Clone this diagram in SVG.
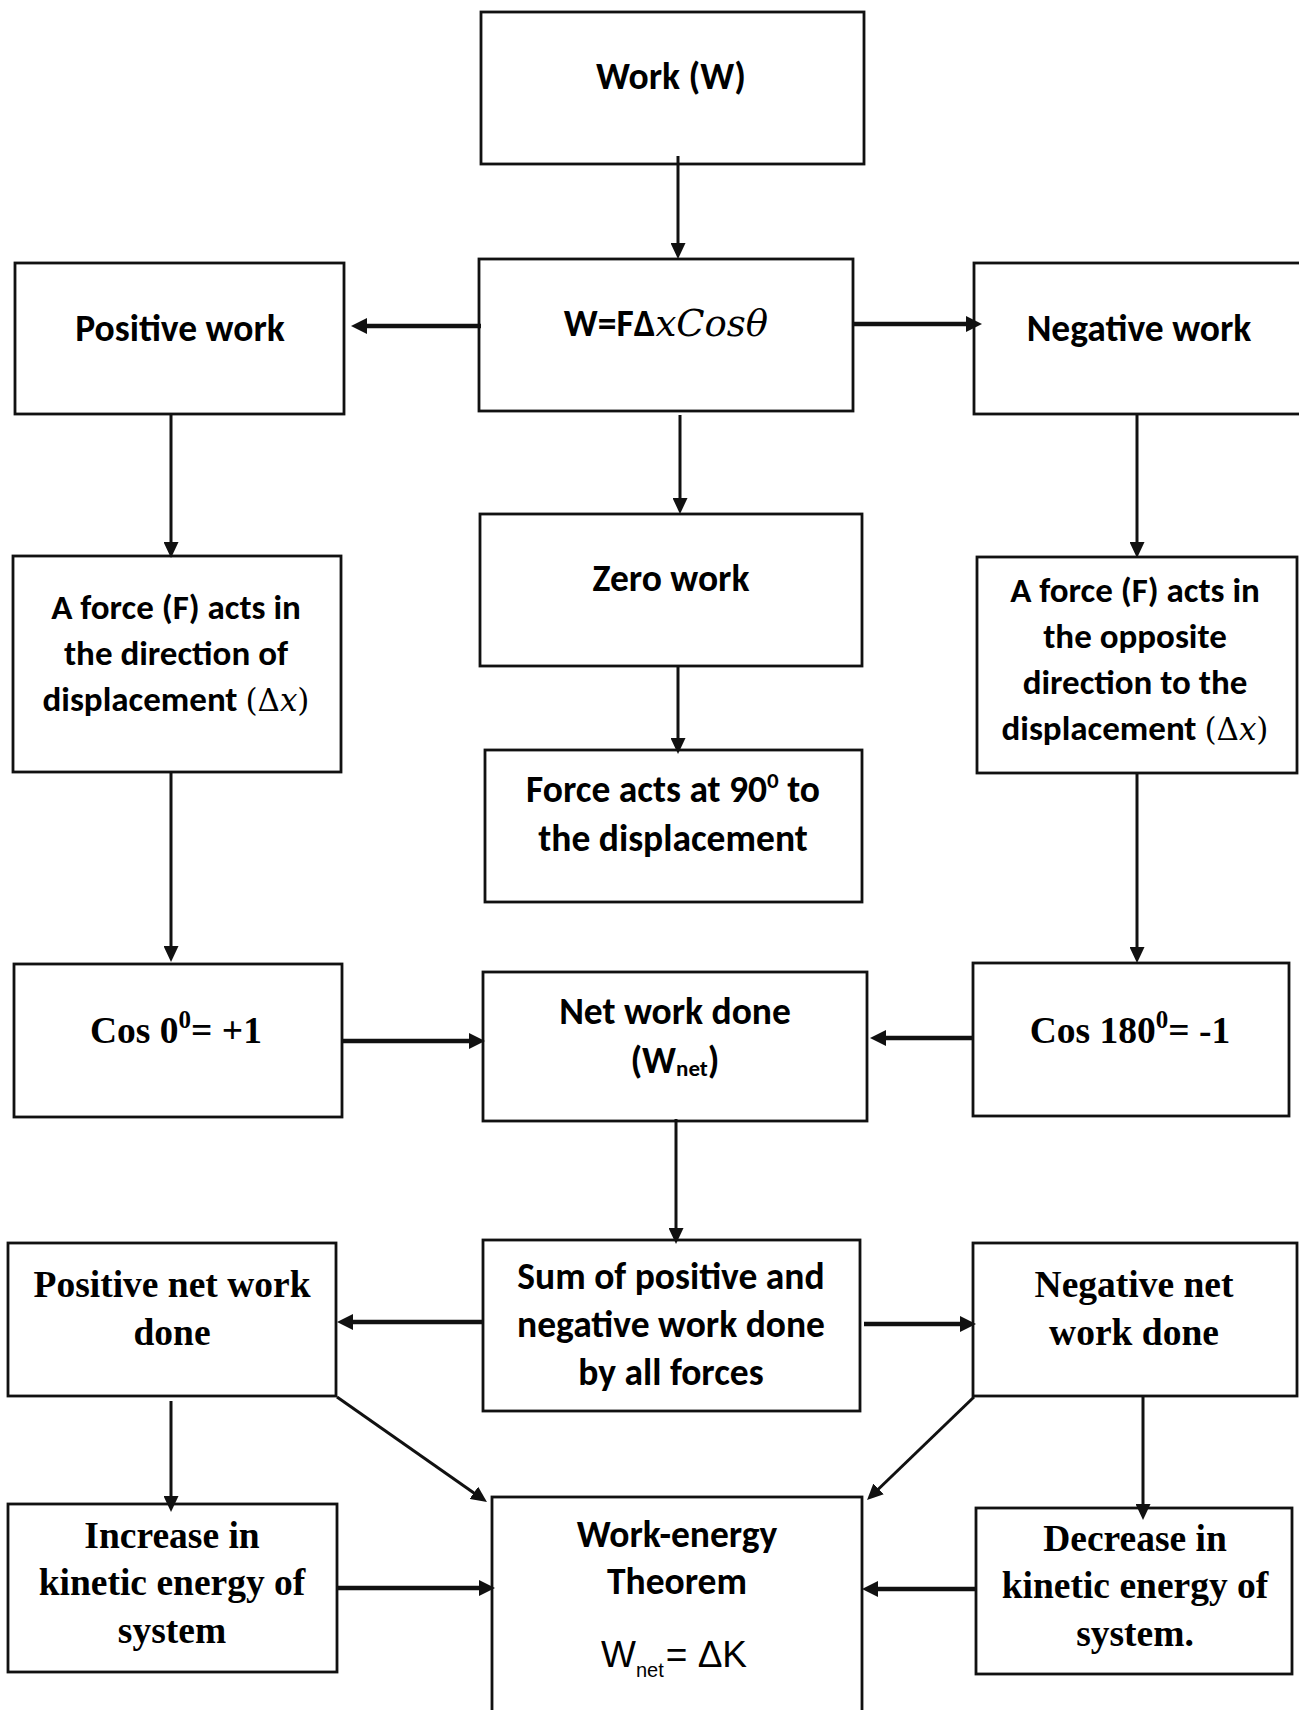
<svg xmlns="http://www.w3.org/2000/svg" width="1299" height="1710" viewBox="0 0 1299 1710">
<style>
  .box { fill: #ffffff; stroke: #111111; stroke-width: 2.8; }
  .sb { font-family: Carlito, Lato, "Open Sans", sans-serif; font-weight: bold; font-size: 37.5px; fill: #000; text-anchor: middle; }
  .sm { font-size: 35px; }
  .tb { font-family: "Liberation Serif", "Times New Roman", serif; font-weight: bold; font-size: 37.5px; fill: #000; text-anchor: middle; }
  .math { font-family: "DejaVu Serif", "Liberation Serif", serif; font-weight: normal; }
  .mi { font-family: "DejaVu Serif", "Liberation Serif", serif; font-style: italic; font-weight: normal; }
  .reg { font-family: "Liberation Sans", Arial, sans-serif; font-size: 37px; fill: #000; }
  .thin { stroke: #111111; stroke-width: 3; fill: none; }
  .thick { stroke: #111111; stroke-width: 4.5; fill: none; }
</style>
<defs>
  <marker id="ahThin" viewBox="0 0 16 15" refX="8" refY="7.5" markerWidth="16" markerHeight="15" markerUnits="userSpaceOnUse" orient="auto">
    <path d="M0,0 L16,7.5 L0,15 Z" fill="#111111"/>
  </marker>
  <marker id="ahThick" viewBox="0 0 16 16" refX="8" refY="8" markerWidth="16" markerHeight="16" markerUnits="userSpaceOnUse" orient="auto">
    <path d="M0,0 L16,8 L0,16 Z" fill="#111111"/>
  </marker>
</defs>
<rect width="1299" height="1710" fill="#ffffff"/>

<g id="n_work">
  <rect class="box" x="481" y="12" width="383" height="152"/>
  <text class="sb" x="671" y="89">Work (W)</text>
</g>

<g id="n_formula">
  <rect class="box" x="479" y="259" width="374" height="152"/>
  <text class="sb" x="666" y="336" font-size="34">W=FΔ<tspan class="mi" font-size="37">xCos</tspan><tspan class="mi" font-weight="bold" font-size="37">θ</tspan></text>
</g>

<g id="n_pos">
  <rect class="box" x="15" y="263" width="329" height="151"/>
  <text class="sb" x="180" y="341">Positive work</text>
</g>

<g id="n_neg">
  <rect class="box" x="974" y="263" width="335" height="151"/>
  <text class="sb" x="1139" y="341">Negative work</text>
</g>

<g id="n_posdesc">
  <rect class="box" x="13" y="556" width="328" height="216"/>
  <text class="sb sm" x="176" y="619">A force (F) acts in</text>
  <text class="sb sm" x="176" y="665">the direction of</text>
  <text class="sb sm" x="176" y="711">displacement <tspan class="math" font-size="31">(Δ</tspan><tspan class="mi" font-size="31">x</tspan><tspan class="math" font-size="31">)</tspan></text>
</g>

<g id="n_zero">
  <rect class="box" x="480" y="514" width="382" height="152"/>
  <text class="sb" x="671" y="591">Zero work</text>
</g>

<g id="n_perp">
  <rect class="box" x="485" y="750" width="377" height="152"/>
  <text class="sb" x="673" y="802">Force acts at 90<tspan font-size="23" dy="-14">0</tspan><tspan dy="14"> to</tspan></text>
  <text class="sb" x="673" y="851">the displacement</text>
</g>

<g id="n_negdesc">
  <rect class="box" x="977" y="557" width="320" height="216"/>
  <text class="sb sm" x="1135" y="602">A force (F) acts in</text>
  <text class="sb sm" x="1135" y="648">the opposite</text>
  <text class="sb sm" x="1135" y="694">direction to the</text>
  <text class="sb sm" x="1135" y="740">displacement <tspan class="math" font-size="31">(Δ</tspan><tspan class="mi" font-size="31">x</tspan><tspan class="math" font-size="31">)</tspan></text>
</g>

<g id="n_cos0">
  <rect class="box" x="14" y="964" width="328" height="153"/>
  <text class="tb" x="176" y="1043" font-size="38">Cos 0<tspan font-size="25" dy="-15">0</tspan><tspan dy="15">= +1</tspan></text>
</g>

<g id="n_net">
  <rect class="box" x="483" y="972" width="384" height="149"/>
  <text class="sb" x="675" y="1024">Net work done</text>
  <text class="sb" x="675" y="1073">(W<tspan font-size="23" dy="3">net</tspan><tspan dy="-3">)</tspan></text>
</g>

<g id="n_cos180">
  <rect class="box" x="973" y="963" width="316" height="153"/>
  <text class="tb" x="1130" y="1043" font-size="38">Cos 180<tspan font-size="25" dy="-15">0</tspan><tspan dy="15">= -1</tspan></text>
</g>

<g id="n_sum">
  <rect class="box" x="483" y="1240" width="377" height="171"/>
  <text class="sb" x="671" y="1289">Sum of positive and</text>
  <text class="sb" x="671" y="1337">negative work done</text>
  <text class="sb" x="671" y="1385">by all forces</text>
</g>

<g id="n_posnet">
  <rect class="box" x="8" y="1243" width="328" height="153"/>
  <text class="tb" x="172" y="1297">Positive net work</text>
  <text class="tb" x="172" y="1345">done</text>
</g>

<g id="n_negnet">
  <rect class="box" x="973" y="1243" width="324" height="153"/>
  <text class="tb" x="1134" y="1297">Negative net</text>
  <text class="tb" x="1134" y="1345">work done</text>
</g>

<g id="n_inc">
  <rect class="box" x="8" y="1504" width="329" height="168"/>
  <text class="tb" x="172" y="1548">Increase in</text>
  <text class="tb" x="172" y="1595">kinetic energy of</text>
  <text class="tb" x="172" y="1643">system</text>
</g>

<g id="n_we">
  <rect class="box" x="492" y="1497" width="370" height="220"/>
  <text class="sb" x="677" y="1547">Work-energy</text>
  <text class="sb" x="677" y="1594">Theorem</text>
  <text class="reg" x="601" y="1667">W<tspan font-size="20" dy="10">net</tspan><tspan dy="-10" dx="2">= ΔK</tspan></text>
</g>

<g id="n_dec">
  <rect class="box" x="976" y="1508" width="316" height="166"/>
  <text class="tb" x="1135" y="1551">Decrease in</text>
  <text class="tb" x="1135" y="1598">kinetic energy of</text>
  <text class="tb" x="1135" y="1646">system.</text>
</g>

<g id="connectors">
  <line class="thin" x1="678" y1="156" x2="678" y2="251" marker-end="url(#ahThin)"/>
  <line class="thick" x1="481" y1="326" x2="359" y2="326" marker-end="url(#ahThick)"/>
  <line class="thick" x1="853" y1="324" x2="974" y2="324" marker-end="url(#ahThick)"/>
  <line class="thin" x1="680" y1="415" x2="680" y2="506" marker-end="url(#ahThin)"/>
  <line class="thin" x1="678" y1="666" x2="678" y2="746" marker-end="url(#ahThin)"/>
  <line class="thin" x1="171" y1="415" x2="171" y2="550" marker-end="url(#ahThin)"/>
  <line class="thin" x1="1137" y1="415" x2="1137" y2="550" marker-end="url(#ahThin)"/>
  <line class="thin" x1="171" y1="772" x2="171" y2="954" marker-end="url(#ahThin)"/>
  <line class="thin" x1="1137" y1="773" x2="1137" y2="955" marker-end="url(#ahThin)"/>
  <line class="thick" x1="342" y1="1041" x2="477" y2="1041" marker-end="url(#ahThick)"/>
  <line class="thick" x1="973" y1="1038" x2="878" y2="1038" marker-end="url(#ahThick)"/>
  <line class="thin" x1="676" y1="1119" x2="676" y2="1236" marker-end="url(#ahThin)"/>
  <line class="thick" x1="483" y1="1322" x2="345" y2="1322" marker-end="url(#ahThick)"/>
  <line class="thick" x1="864" y1="1324" x2="968" y2="1324" marker-end="url(#ahThick)"/>
  <line class="thin" x1="171" y1="1401" x2="171" y2="1504" marker-end="url(#ahThin)"/>
  <line class="thin" x1="337" y1="1397" x2="480.4" y2="1497.4" marker-end="url(#ahThin)"/>
  <line class="thin" x1="974" y1="1397" x2="872.8" y2="1494.5" marker-end="url(#ahThin)"/>
  <line class="thin" x1="1143" y1="1396" x2="1143" y2="1512" marker-end="url(#ahThin)"/>
  <line class="thick" x1="337" y1="1588" x2="487" y2="1588" marker-end="url(#ahThick)"/>
  <line class="thick" x1="976" y1="1589" x2="870" y2="1589" marker-end="url(#ahThick)"/>
</g>
</svg>
